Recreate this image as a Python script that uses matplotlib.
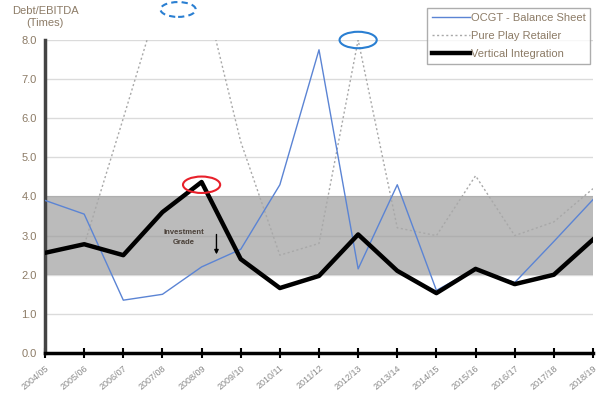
import matplotlib.pyplot as plt
from matplotlib.patches import Ellipse

plt.rcParams['font.family'] = ['Liberation Sans', 'DejaVu Sans']

# data
years = ['2004/05', '2005/06', '2006/07', '2007/08', '2008/09', '2009/10', '2010/11',
         '2011/12', '2012/13', '2013/14', '2014/15', '2015/16', '2016/17', '2017/18', '2018/19']
ocgt = [3.9, 3.55, 1.35, 1.5, 2.2, 2.65, 4.3, 7.75, 2.15, 4.3, 1.6, 2.15, 1.8, 2.85, 3.92]
pure_play = [2.6, 2.75, 6.0, 9.3, 9.5, 5.4, 2.5, 2.8, 8.0, 3.2, 3.0, 4.53, 3.0, 3.35, 4.2]
vertical = [2.56, 2.78, 2.5, 3.6, 4.37, 2.4, 1.66, 1.97, 3.03, 2.1, 1.53, 2.15, 1.76, 2.0, 2.9]
band_low, band_high = 2.0, 4.0

label_col = '#8c7b66'

fig = plt.figure(figsize=(6.02, 3.96), dpi=100)
ax = fig.add_axes([0.0748, 0.1086, 0.9102, 0.7904])

x = list(range(len(years)))
ax.axhspan(band_low, band_high, color='#bbbbbb', zorder=0, lw=0)
ax.set_yticks([0, 1, 2, 3, 4, 5, 6, 7, 8])
ax.yaxis.grid(True, color='#9a9a9a', alpha=0.35, lw=1, zorder=1)
ax.set_axisbelow(True)

ax.plot(x, ocgt, color='#5b84d4', lw=1, label='OCGT - Balance Sheet', zorder=3)
ax.plot(x, pure_play, color='#a8a8a8', lw=1, ls=(0, (1.5, 1.8)), label='Pure Play Retailer', zorder=2)
ax.plot(x, vertical, color='black', lw=3.2, label='Vertical Integration', zorder=4)

ax.set_xlim(0, len(years) - 1)
ax.set_ylim(0, 8)
ax.set_xticks(x)
ax.set_xticklabels(years, rotation=40, ha='right', rotation_mode='anchor',
                   fontsize=6.5, color='#8a8a8a')
ax.set_yticklabels(['%.1f' % v for v in range(9)], fontsize=8, color=label_col)
ax.tick_params(axis='x', direction='inout', length=7, width=1.5, color='black', pad=4)
ax.tick_params(axis='y', length=0, pad=6)

for s in ['top', 'right']:
    ax.spines[s].set_visible(False)
ax.spines['bottom'].set_linewidth(2.5)
ax.spines['left'].set_linewidth(2.5)
ax.spines['left'].set_color('#444444')

fig.text(0.075, 0.957, 'Debt/EBITDA\n(Times)', ha='center', va='center',
         fontsize=8, color=label_col, linespacing=1.3)

# highlights
ax.add_patch(Ellipse((4, 4.3), 0.95, 0.42, fill=False, ec='#e8202a', lw=1.5, zorder=5))
ax.add_patch(Ellipse((8, 8.0), 0.95, 0.42, fill=False, ec='#2a7fd2', lw=1.5,
                     zorder=5, clip_on=False))
ax.add_patch(Ellipse((3.4, 8.78), 0.9, 0.38, fill=False, ec='#2a7fd2', lw=1.5,
                     ls=(0, (3, 2)), zorder=5, clip_on=False))

ax.text(3.55, 2.95, 'Investment\nGrade', ha='center', va='center', fontsize=5.5,
        fontweight='bold', color='#4a4038', linespacing=1.6)
ax.annotate('', xy=(4.38, 2.45), xytext=(4.38, 3.1),
            arrowprops=dict(arrowstyle='-|>', color='black', lw=1, mutation_scale=6))

leg = ax.legend(loc='upper right', bbox_to_anchor=(0.99, 0.995), bbox_transform=fig.transFigure,
                fontsize=8, frameon=True, fancybox=False, edgecolor='#999999',
                handlelength=3.4, handletextpad=0.1, borderpad=0.45, labelspacing=0.75)
for t in leg.get_texts():
    t.set_color(label_col)

fig.savefig('out.png', dpi=100)
